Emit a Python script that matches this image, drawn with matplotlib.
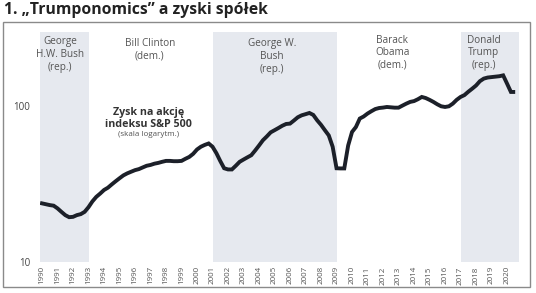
import matplotlib
matplotlib.use("Agg")
import matplotlib.pyplot as plt
from matplotlib.patches import Rectangle

plt.rcParams['font.family'] = ['Open Sans', 'DejaVu Sans']

# quarterly EPS of S&P 500, starting 1990 Q1
eps = [
    23.8, 23.5, 23.2, 23.0,      # 1990
    22.1, 21.0, 20.0, 19.4,      # 1991
    19.5, 20.0, 20.3, 21.0,      # 1992
    22.5, 24.5, 26.2, 27.5,      # 1993
    29.0, 30.0, 31.5, 33.0,      # 1994
    34.5, 36.0, 37.1, 38.0,      # 1995
    38.9, 39.5, 40.5, 41.5,      # 1996
    42.0, 42.8, 43.3, 44.0,      # 1997
    44.6, 44.6, 44.4, 44.4,      # 1998
    44.6, 46.0, 47.3, 49.5,      # 1999
    52.8, 55.0, 56.5, 57.7,      # 2000
    55.0, 50.0, 44.5, 40.0,      # 2001
    39.3, 39.3, 41.5, 44.0,      # 2002
    45.5, 47.0, 48.5, 52.0,      # 2003
    56.0, 60.5, 64.0, 68.0,      # 2004
    70.2, 72.5, 75.0, 77.0,      # 2005
    77.4, 81.0, 85.0, 87.5,      # 2006
    89.0, 90.6, 88.0, 81.3,      # 2007
    76.0, 70.2, 65.0, 55.0,      # 2008
    40.0, 39.9, 39.9, 56.0,      # 2009
    68.4, 73.6, 83.4, 86.0,      # 2010
    89.8, 93.0, 96.0, 97.5,      # 2011
    98.1, 99.0, 98.5, 98.0,      # 2012
    98.0, 101.0, 104.0, 106.7,   # 2013
    108.0, 111.0, 114.8, 113.0,  # 2014
    110.0, 106.7, 103.0, 100.0,  # 2015
    99.0, 100.0, 104.0, 110.0,   # 2016
    114.8, 118.0, 124.0, 129.7,  # 2017
    136.0, 145.0, 150.6, 153.0,  # 2018
    154.0, 155.0, 156.0, 158.0,  # 2019
    139.9, 123.6, 123.6,         # 2020
]
start_year = 1990
years = list(range(1990, 2021))

# presidencies: label, start, end, shaded
term_names = ["George\nH.W. Bush\n(rep.)", "Bill Clinton\n(dem.)",
              "George W.\nBush\n(rep.)", "Barack\nObama\n(dem.)",
              "Donald\nTrump\n(rep.)"]
term_start = [1989.0, 1993.0, 2001.0, 2009.0, 2017.0]
term_end = [1993.0, 2001.0, 2009.0, 2017.0, 2020.8]
term_shaded = [True, False, True, False, True]
label_x = [1991.15, 1996.95, 2004.85, 2012.6, 2018.5]
label_y = [281, 273, 273, 289, 289]

fig = plt.figure(figsize=(5.36, 2.93), dpi=100)
ax = fig.add_axes([40/536, 31/293, (523-40)/536, (262-32)/293])

x = [start_year + i * 0.25 for i in range(len(eps))]
x[-1] = 2020.4

xmin, xmax = 1989.87, 2021.03
for name, a, b, shade, lx, ly in zip(term_names, term_start, term_end,
                                     term_shaded, label_x, label_y):
    if shade:
        ax.axvspan(a, b, color='#e6e9ef', lw=0, zorder=0)
    ax.text(lx, ly, name, ha='center', va='top', fontsize=7.2,
            color='#555555', linespacing=1.2)

ax.plot(x, eps, color='#1c2029', lw=2.8, solid_joinstyle='miter', zorder=3)

ax.set_yscale('log')
ax.set_ylim(10, 300)
ax.set_xlim(xmin, xmax)
ax.set_yticks([10, 100])
ax.set_yticklabels(['10', '100'])
ax.yaxis.set_minor_locator(matplotlib.ticker.NullLocator())
ax.set_xticks(years)
ax.set_xticklabels([str(y) for y in years], rotation=90, fontsize=5.8,
                   color='#555555')
ax.tick_params(axis='y', length=0, pad=7, labelsize=7, labelcolor='#444444')
ax.tick_params(axis='x', length=0, pad=3)
for s in ax.spines.values():
    s.set_visible(False)

ax.text(1996.85, 91.5, "Zysk na akcję", ha='center', va='center',
        fontsize=7.7, fontweight='bold', color='#333333')
ax.text(1996.85, 76.7, "indeksu S&P 500", ha='center', va='center',
        fontsize=7.7, fontweight='bold', color='#333333')
ax.text(1996.85, 66.2, "(skala logarytm.)", ha='center', va='center',
        fontsize=5.8, color='#555555')

fig.text(4/536, 1 - 10/293, "1. \u201eTrumponomics\u201d a zyski spółek",
         ha='left', va='center', fontsize=11.3, fontweight='bold',
         color='#222222')

fig.patches.append(Rectangle((3/536, 1 - 287/293), (530-3)/536, (287-22)/293,
                             transform=fig.transFigure, fill=False,
                             edgecolor='#8a8a8a', lw=1.0))

fig.savefig("out.png", dpi=100)
